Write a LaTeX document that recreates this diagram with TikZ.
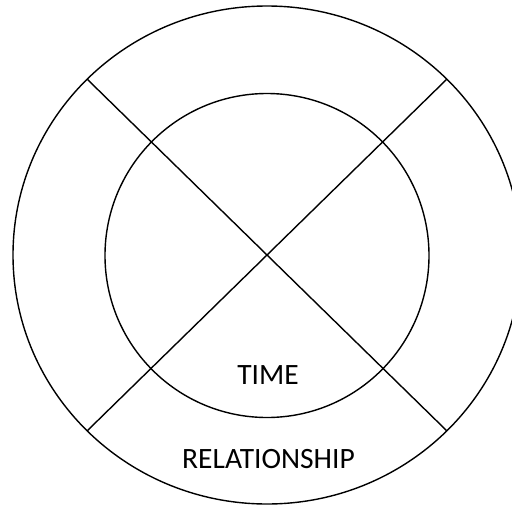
\documentclass[tikz,border=0pt]{standalone}
\usepackage{fontspec}
\setmainfont{Carlito}
\begin{document}
\begin{tikzpicture}[x=1pt,y=-1pt,line width=1.4pt,
  lbl/.style={font=\fontsize{29.5}{31}\selectfont,inner sep=0pt}]
\useasboundingbox (0,0) rectangle (512,504);
\clip (0,0) rectangle (512,504);
\coordinate (c) at (267,255);
\draw (c) ellipse [x radius=254, y radius=249];
\draw (267,255.5) circle [radius=162];
\coordinate (tl) at (87,79);
\coordinate (br) at (447,431);
\coordinate (tr) at (447,79);
\coordinate (bl) at (87,431);
\draw (tl) -- (br);
\draw (tr) -- (bl);
\node[lbl] (time) at (268,375) {TIME};
\node[lbl] (rel) at (268.5,459) {RELATIONSHIP};
\end{tikzpicture}
\end{document}
